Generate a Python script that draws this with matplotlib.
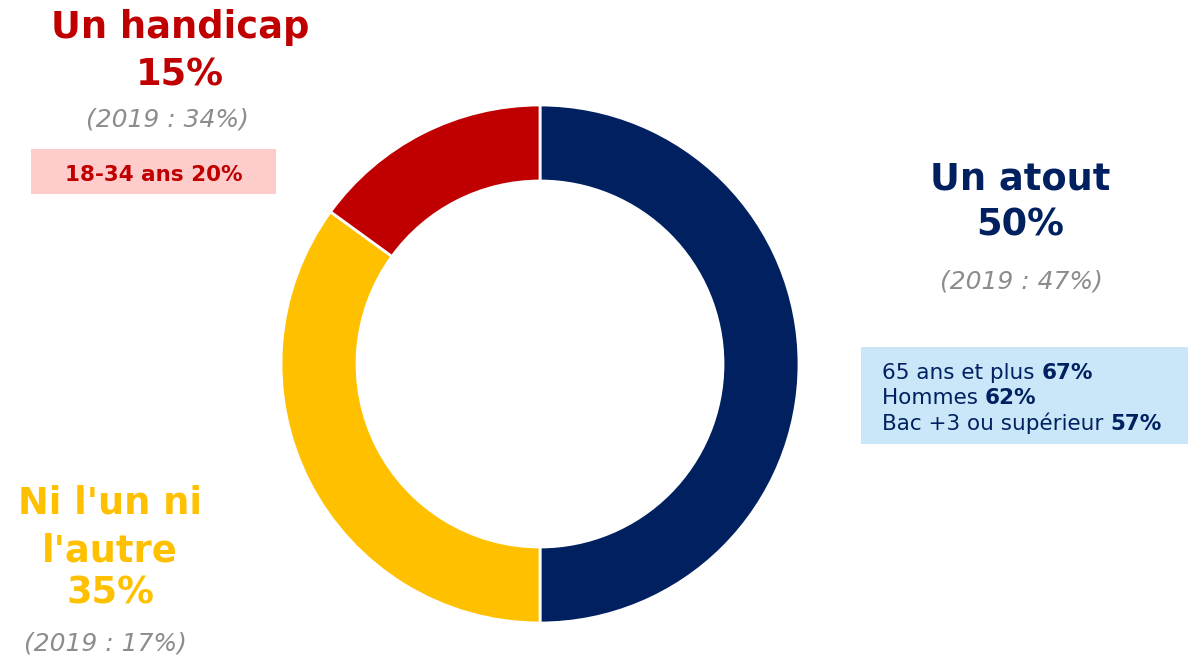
import matplotlib.pyplot as plt
from matplotlib.patches import Rectangle

plt.rcParams['font.family'] = ['DejaVu Sans']

# donut data
labels = ["Un atout", "Ni l'un ni l'autre", "Un handicap"]
values = [50, 35, 15]
prev_2019 = [47, 17, 34]
colors = ["#002060", "#FFC000", "#C00000"]

# breakdown boxes
atout_groups = ["65 ans et plus", "Hommes", "Bac +3 ou supérieur"]
atout_values = [67, 62, 57]
handicap_groups = ["18-34 ans"]
handicap_values = [20]

W, H = 1188, 657
fig = plt.figure(figsize=(W / 100, H / 100), dpi=100)
ax = fig.add_axes([0, 0, 1, 1])

def Y(y):
    # pixel row from top -> data y
    return H - y

ax.pie(values, colors=colors, startangle=90, counterclock=False,
       center=(540, Y(364)), radius=259,
       wedgeprops=dict(width=76, edgecolor='white', linewidth=2))
ax.set_xlim(0, W)
ax.set_ylim(0, H)
ax.set_aspect('equal')
ax.axis('off')

grey = "#8C8C8C"
big = 26.5
small = 18

def title_block(x, ys, lines, col):
    for y, s in zip(ys, lines):
        ax.text(x, Y(y), s, color=col, fontsize=big, fontweight='bold', ha='center', va='baseline')

# Un handicap
title_block(180, [38, 85], [labels[2], "%d%%" % values[2]], colors[2])
ax.text(167, Y(127), "(2019 : %d%%)" % prev_2019[2], color=grey, fontsize=small, style='italic', ha='center', va='baseline')
ax.add_patch(Rectangle((31, Y(194)), 245, 45, color="#FFCCCC", lw=0))
ax.text(154, Y(181), "%s %d%%" % (handicap_groups[0], handicap_values[0]), color=colors[2],
        fontsize=15.5, fontweight='bold', ha='center', va='baseline')

# Un atout
title_block(1020, [190, 235], [labels[0], "%d%%" % values[0]], colors[0])
ax.text(1021, Y(288), "(2019 : %d%%)" % prev_2019[0], color=grey, fontsize=small, style='italic', ha='center', va='baseline')
ax.add_patch(Rectangle((861, Y(444)), 327, 97, color="#C9E7F8", lw=0))
for i, (g, v, y) in enumerate(zip(atout_groups, atout_values, [379, 404, 430])):
    t = ax.text(882, Y(y), g + " ", color=colors[0], fontsize=15.5, ha='left', va='baseline')
    ax.annotate("%d%%" % v, xy=(1, 0), xycoords=t, color=colors[0], fontsize=15.5,
                fontweight='bold', ha='left', va='bottom')

# Ni l'un ni l'autre
title_block(110, [514, 561, 604], ["Ni l'un ni", "l'autre", "%d%%" % values[1]], colors[1])
ax.text(105, Y(650), "(2019 : %d%%)" % prev_2019[1], color=grey, fontsize=small, style='italic', ha='center', va='baseline')

fig.savefig("out.png", dpi=100)
